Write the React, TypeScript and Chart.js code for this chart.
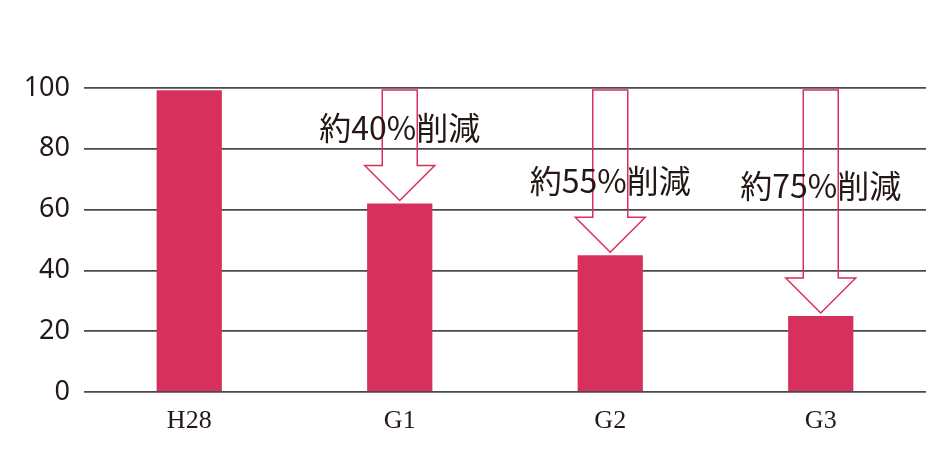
import { useEffect, useRef } from 'react'
import { Chart, ChartConfiguration, Plugin, registerables } from 'chart.js'

Chart.register(...registerables)

const categories = ['H28', 'G1', 'G2', 'G3']
const values = [99.3, 62, 45, 25]
const reductionLabels = ['', '約40%削減', '約55%削減', '約75%削減']
const yTicks = [0, 20, 40, 60, 80, 100]

const barColor = '#D8305C'
const inkColor = '#231815'

// label centre heights (in axis units) for each annotation
const labelLevels = [0, 87, 69.5, 67.8]

const arrowPlugin: Plugin<'bar'> = {
  id: 'reductionArrows',
  afterDatasetsDraw(chart) {
    const { ctx } = chart
    const x = chart.scales.x
    const y = chart.scales.y
    const meta = chart.getDatasetMeta(0)
    const topY = y.getPixelForValue(100) + 2

    ctx.save()
    meta.data.forEach((bar, i) => {
      if (!reductionLabels[i]) return
      const cx = x.getPixelForValue(i)
      const barTop = (bar as any).y
      const tip = barTop - 3
      const headTop = tip - 35
      const shaft = 17.5
      const head = 35

      ctx.beginPath()
      ctx.moveTo(cx - shaft, topY)
      ctx.lineTo(cx + shaft, topY)
      ctx.lineTo(cx + shaft, headTop)
      ctx.lineTo(cx + head, headTop)
      ctx.lineTo(cx, tip)
      ctx.lineTo(cx - head, headTop)
      ctx.lineTo(cx - shaft, headTop)
      ctx.closePath()
      ctx.strokeStyle = barColor
      ctx.lineWidth = 1.5
      ctx.stroke()

      ctx.fillStyle = inkColor
      ctx.font = '32px "Noto Sans CJK JP"'
      ctx.textAlign = 'center'
      ctx.textBaseline = 'middle'
      ctx.fillText(reductionLabels[i], cx, y.getPixelForValue(labelLevels[i]))
    })
    ctx.restore()
  }
}

export default function App() {
  const chartRef = useRef<HTMLCanvasElement | null>(null)
  const chartInstance = useRef<Chart | null>(null)

  useEffect(() => {
    document.body.style.margin = '0'
    if (chartRef.current) {
      const ctx = chartRef.current.getContext('2d')

      if (ctx) {
        if (chartInstance.current) {
          chartInstance.current.destroy()
        }

        const chartConfig: ChartConfiguration<'bar'> = {
          type: 'bar',
          data: {
            labels: categories,
            datasets: [
              {
                data: values,
                backgroundColor: barColor,
                barPercentage: 0.31,
                categoryPercentage: 1
              }
            ]
          },
          options: {
            responsive: false,
            animation: false,
            layout: { padding: { top: 88, right: 2, left: 0, bottom: 0 } },
            plugins: {
              legend: { display: false },
              tooltip: { enabled: false }
            },
            scales: {
              x: {
                grid: { display: false },
                border: { display: false },
                ticks: {
                  color: inkColor,
                  padding: 6,
                  font: { family: '"Liberation Serif", serif', size: 26 }
                },
                afterFit: (scale) => {
                  scale.height = 76
                }
              },
              y: {
                min: 0,
                max: 100,
                afterBuildTicks: (scale) => {
                  scale.ticks = yTicks.map(v => ({ value: v }))
                },
                grid: { color: '#4a4a4a', lineWidth: 1.8, drawTicks: false },
                border: { display: false },
                ticks: {
                  color: inkColor,
                  padding: 14,
                  font: { family: '"Noto Sans", sans-serif', size: 27 }
                },
                afterFit: (scale) => {
                  scale.width = 84
                }
              }
            }
          },
          plugins: [arrowPlugin]
        }

        chartInstance.current = new Chart(ctx, chartConfig)
      }
    }

    return () => {
      if (chartInstance.current) {
        chartInstance.current.destroy()
        chartInstance.current = null
      }
    }
  }, [])

  return <canvas ref={chartRef} width={928} height={468} style={{ display: 'block' }} />
}
